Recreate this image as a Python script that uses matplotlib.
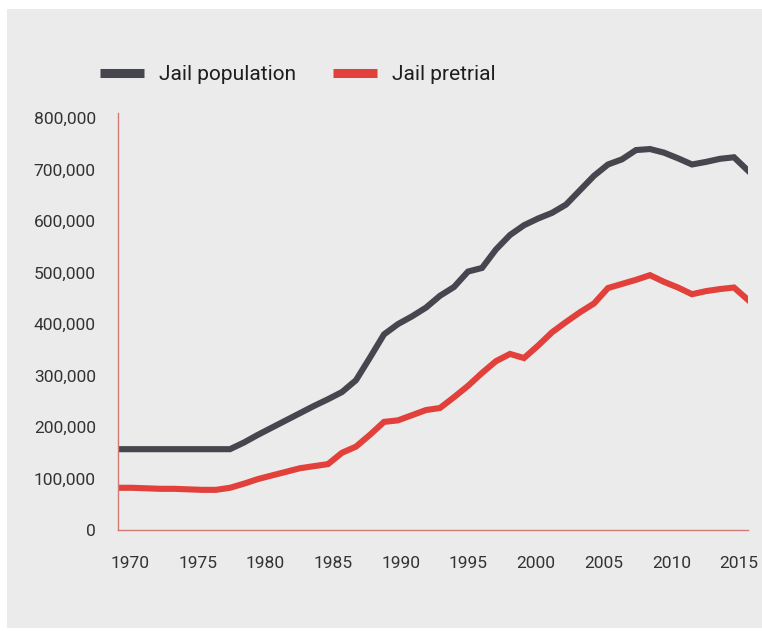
import numpy as np
import matplotlib
matplotlib.use("Agg")
import matplotlib.pyplot as plt
from matplotlib.patches import Rectangle
from matplotlib.ticker import FuncFormatter

# yearly jail counts, 1970-2015
years = list(range(1970, 2016))
jail_population = [
    157000, 157000, 157000, 157000, 157000, 157000, 157000, 157000, 157000, 170000,
    185000, 199000, 213000, 227000, 241000, 254000, 268000, 291000, 335000, 380000,
    400000, 415000, 432000, 455000, 472000, 502000, 509000, 545000, 573000, 592000,
    605000, 616000, 632000, 660000, 688000, 710000, 720000, 738000, 740000, 733000,
    722000, 710000, 715000, 721000, 724000, 698000,
]
jail_pretrial = [
    82000, 82000, 81000, 80000, 80000, 79000, 78000, 78000, 82000, 90000,
    99000, 106000, 113000, 120000, 124000, 128000, 150000, 162000, 185000, 210000,
    213000, 223000, 233000, 237000, 258000, 280000, 305000, 328000, 342000, 334000,
    358000, 384000, 404000, 423000, 440000, 470000, 478000, 486000, 495000, 482000,
    471000, 458000, 464000, 468000, 471000, 447000,
]
year_labels = ["1970", "1975", "1980", "1985", "1990", "1995", "2000", "2005", "2010", "2015"]
y_ticks = [0, 100000, 200000, 300000, 400000, 500000, 600000, 700000, 800000]

BG = "#ebebeb"
DARK = "#46464e"
RED = "#e2403a"
AXIS = "#cf7b73"
TXT = "#333333"

plt.rcParams["font.family"] = ["Roboto", "DejaVu Sans"]

fig = plt.figure(figsize=(7.62, 6.31), dpi=100)
fig.patch.set_facecolor("white")
fig.patches.append(Rectangle((7 / 762, 0.005), 1.0, 1 - 9 / 631 - 0.005,
                             transform=fig.transFigure, facecolor=BG,
                             edgecolor="none", zorder=-10))

ax = fig.add_axes([118 / 762, 1 - 530 / 631, 630 / 762, 417 / 631])
ax.set_zorder(2)
ax.set_facecolor("none")

ax.plot(years, jail_population, color=DARK, lw=4.4, solid_joinstyle="miter",
        label="Jail population")
ax.plot(years, jail_pretrial, color=RED, lw=4.4, solid_joinstyle="miter",
        label="Jail pretrial")

ax.set_xlim(1970, 2015)
ax.set_ylim(0, 810000)

for side in ["top", "right"]:
    ax.spines[side].set_visible(False)
for side in ["left", "bottom"]:
    ax.spines[side].set_color(AXIS)
    ax.spines[side].set_linewidth(1.0)

ax.set_yticks(y_ticks)
ax.yaxis.set_major_formatter(FuncFormatter(lambda v, p: f"{int(v):,}"))
# year labels sit a little off the yearly grid
ax.set_xticks(np.linspace(1970.86, 2014.36, len(year_labels)))
ax.set_xticklabels(year_labels)
ax.tick_params(axis="y", length=0, pad=16, labelsize=12.5, labelcolor=TXT)
ax.tick_params(axis="x", length=0, pad=19, labelsize=12.5, labelcolor=TXT)

leg = fig.legend(loc="center left", bbox_to_anchor=(100 / 762, 1 - 75 / 631),
                 ncol=2, frameon=False, fontsize=15, handlelength=2.1,
                 handletextpad=0.75, columnspacing=1.75, borderpad=0,
                 borderaxespad=0)
leg.set_zorder(3)
for h in leg.legend_handles:
    h.set_linewidth(6.5)
    h.set_solid_capstyle("butt")
for t in leg.get_texts():
    t.set_color("#1e1e1e")

fig.savefig("out.png", dpi=100, facecolor=fig.get_facecolor())
